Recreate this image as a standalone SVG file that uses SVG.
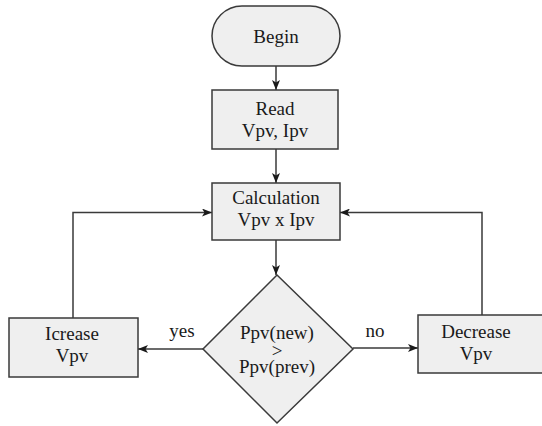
<svg xmlns="http://www.w3.org/2000/svg" width="542" height="426" viewBox="0 0 542 426">
<style>
.shape{fill:#efefef;stroke:#3a3a3a;stroke-width:1.5}
.lbl{font-family:'Liberation Serif','Times New Roman','DejaVu Serif',serif;font-size:19px;fill:#1a1a1a;text-anchor:middle}
.edge{fill:none;stroke:#3a3a3a;stroke-width:1.5}
</style>
<defs>
<marker id="arr" viewBox="0 0 10 8" refX="10" refY="4" markerWidth="10" markerHeight="8" markerUnits="userSpaceOnUse" orient="auto">
<path d="M0,0 L10,4 L0,8 L2.5,4 Z" fill="#1a1a1a"/>
</marker>
</defs>
<rect width="542" height="426" fill="#ffffff"/>
<g id="connectors">
<line class="edge" x1="276" y1="66" x2="276" y2="90" marker-end="url(#arr)"/>
<line class="edge" x1="276" y1="149" x2="276" y2="183" marker-end="url(#arr)"/>
<line class="edge" x1="276" y1="240" x2="276" y2="275" marker-end="url(#arr)"/>
<line class="edge" x1="203" y1="349" x2="138" y2="349" marker-end="url(#arr)"/>
<line class="edge" x1="353" y1="348" x2="418" y2="348" marker-end="url(#arr)"/>
<polyline class="edge" points="73,318 73,212.5 212,212.5" marker-end="url(#arr)"/>
<polyline class="edge" points="482,315 482,212.5 340,212.5" marker-end="url(#arr)"/>
<text class="lbl" font-family="Liberation Serif, serif" x="182" y="337">yes</text>
<text class="lbl" font-family="Liberation Serif, serif" x="375" y="337">no</text>
</g>
<g id="begin">
<rect class="shape" x="212" y="6" width="128" height="60" rx="30" ry="30"/>
<text class="lbl" font-family="Liberation Serif, serif" x="276" y="43">Begin</text>
</g>
<g id="read">
<rect class="shape" x="212" y="90" width="126" height="59"/>
<text class="lbl" font-family="Liberation Serif, serif" x="275" y="115">Read</text>
<text class="lbl" font-family="Liberation Serif, serif" x="275" y="137">Vpv, Ipv</text>
</g>
<g id="calc">
<rect class="shape" x="212" y="183" width="128" height="57"/>
<text class="lbl" font-family="Liberation Serif, serif" x="276" y="204">Calculation</text>
<text class="lbl" font-family="Liberation Serif, serif" x="276" y="226">Vpv x Ipv</text>
</g>
<g id="decision">
<polygon class="shape" points="277,275 353,349 277,423 203,349"/>
<text class="lbl" font-family="Liberation Serif, serif" x="277" y="339">Ppv(new)</text>
<text class="lbl" font-family="Liberation Serif, serif" x="277" y="357">&gt;</text>
<text class="lbl" font-family="Liberation Serif, serif" x="277" y="373">Ppv(prev)</text>
</g>
<g id="increase">
<rect class="shape" x="9" y="318" width="129" height="59"/>
<text class="lbl" font-family="Liberation Serif, serif" x="72" y="340">Icrease</text>
<text class="lbl" font-family="Liberation Serif, serif" x="72" y="362">Vpv</text>
</g>
<g id="decrease">
<rect class="shape" x="418" y="315" width="130" height="58"/>
<text class="lbl" font-family="Liberation Serif, serif" x="476" y="338">Decrease</text>
<text class="lbl" font-family="Liberation Serif, serif" x="476" y="360">Vpv</text>
</g>
</svg>
